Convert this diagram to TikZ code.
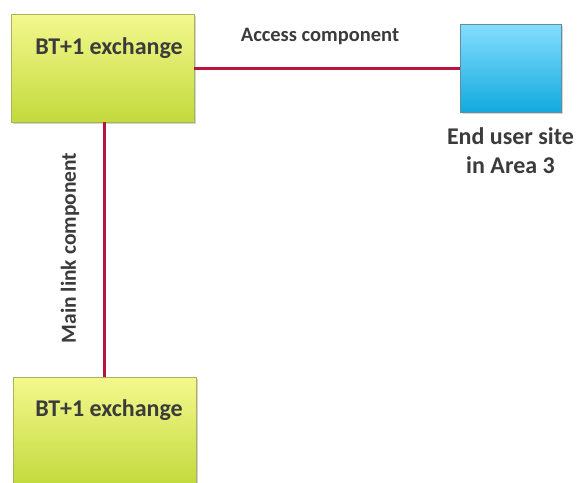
\documentclass[tikz,border=0pt]{standalone}
\usepackage{fontspec}
\setmainfont{Carlito}
\usetikzlibrary{positioning}
\usetikzlibrary{shadows}

\definecolor{limetop}{HTML}{F4F88E}
\definecolor{limebot}{HTML}{C2DA3C}
\definecolor{limeedge}{HTML}{A9B45A}
\definecolor{skytop}{HTML}{86DDFD}
\definecolor{skybot}{HTML}{12AADF}
\definecolor{skyedge}{HTML}{5F8FA3}
\definecolor{linkred}{HTML}{B8143C}
\definecolor{txtgrey}{HTML}{3B3B3B}

\begin{document}
\begin{tikzpicture}[
        x=1pt, y=-1pt,
        exchange/.style={draw=limeedge, line width=0.8pt, top color=limetop,
                         bottom color=limebot, minimum width=183pt,
                         minimum height=108pt, inner sep=0pt,
                         drop shadow={shadow xshift=1.5pt, shadow yshift=-1.5pt,
                                      opacity=0.35}},
        site/.style={draw=skyedge, line width=0.8pt, top color=skytop,
                     bottom color=skybot, minimum width=101pt,
                     minimum height=88pt, inner sep=0pt,
                     drop shadow={shadow xshift=1.5pt, shadow yshift=-1.5pt,
                                  opacity=0.35}},
        lbl/.style={text=txtgrey, font=\fontsize{24}{29}\selectfont\bfseries,
                    inner sep=0pt},
        linklbl/.style={text=txtgrey, font=\fontsize{20.5}{26}\selectfont\bfseries,
                        inner sep=0pt},
        link/.style={draw=linkred, line width=3pt},
    ]
    \clip (0, 0) rectangle (578, 482);

    % boxes
    \node[exchange] (ex1) at (102.5, 68) {};
    \node[exchange] (ex2) at (104.5, 431) {};
    \node[site] (site) at (510.5, 68) {};

    % texts
    \node[lbl] (ex1txt) at (109, 48) {BT+1 exchange};
    \node[lbl] (ex2txt) at (109, 410) {BT+1 exchange};
    \node[lbl, align=center, below=15pt of site] (sitetxt)
        {End user site\\in Area 3};
    \node[linklbl] (acc) at (320, 36) {Access component};
    \node[linklbl, rotate=90, font=\fontsize{21.5}{26}\selectfont\bfseries]
        (main) at (70, 248) {Main link component};

    % connectors
    \draw[link] (ex1.east) -- (site.west);
    \draw[link] (ex1.south -| ex2.north) -- (ex2.north);
\end{tikzpicture}
\end{document}
